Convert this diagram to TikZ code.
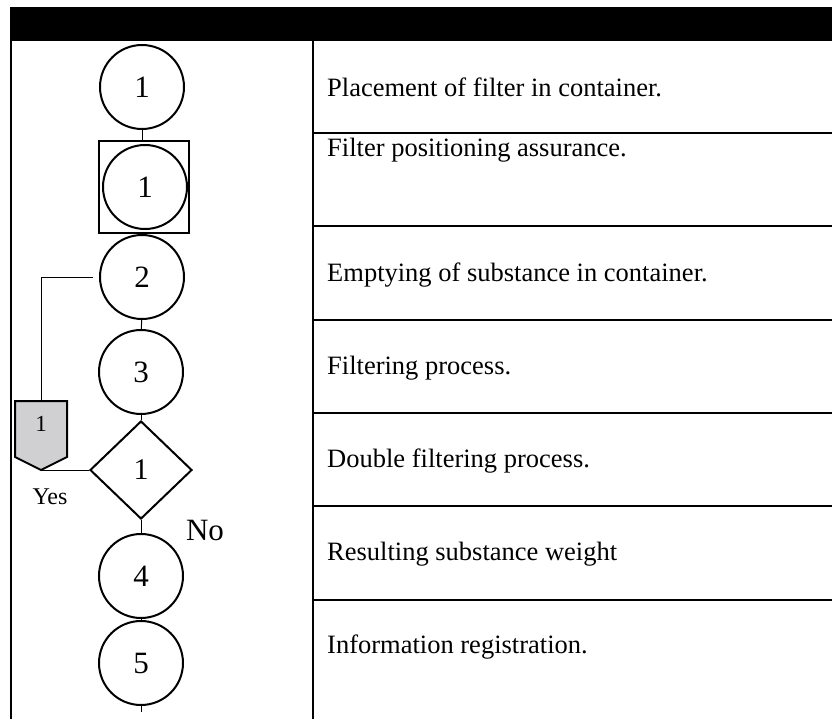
\documentclass[tikz,border=0pt]{standalone}
\usepackage{fontspec}
\setmainfont{Liberation Serif}
\usetikzlibrary{shapes.geometric}
\begin{document}
\begin{tikzpicture}[x=1pt,y=-1pt,
  proc/.style={circle,draw,line width=2pt,minimum size=84pt,inner sep=0pt,font=\fontsize{31}{34}\selectfont},
  conn/.style={line width=1pt},
  rowline/.style={line width=2pt},
  rowtext/.style={anchor=west,inner sep=0pt,font=\fontsize{26.5}{30}\selectfont},
  lbl/.style={inner sep=0pt},
]
\useasboundingbox (0,0) rectangle (832,719);
% table frame
\fill (10,7) rectangle (832,41);
\draw[rowline] (11,40) -- (11,719);
\draw[rowline] (313,40) -- (313,719);
\foreach \yy in {133,226,320,413,506,600}
  \draw[rowline] (313,\yy) -- (832,\yy);
% row texts
\node[rowtext] (t1) at (327,87) {Placement of filter in container.};
\node[rowtext] (t2) at (327,150) {Filter positioning assurance.};
\node[rowtext] (t3) at (327,275) {Emptying of substance in container.};
\node[rowtext] (t4) at (327,368) {Filtering process.};
\node[rowtext] (t5) at (327,461) {Double filtering process.};
\node[rowtext] (t6) at (327,554) {Resulting substance weight};
\node[rowtext] (t7) at (327,647) {Information registration.};
% symbols
\node[proc] (c1) at (142,87) {1};
\node[draw,line width=2pt,minimum width=90pt,minimum height=92pt,inner sep=0pt] (sq) at (144,187) {};
\node[proc] (ci) at (145,187) {1};
\node[proc] (c2) at (142,277) {2};
\node[proc] (c3) at (141,372) {3};
\node[diamond,draw,line width=2pt,minimum width=102pt,minimum height=98pt,inner sep=0pt,font=\fontsize{30}{32}\selectfont] (d1) at (141,470) {1};
\node[proc] (c4) at (141,576) {4};
\node[proc] (c5) at (141,663) {5};
\coordinate (cend) at (141,712);
% off-page connector
\coordinate (pt) at (41,401);
\coordinate (ptip) at (41,470);
\draw[line width=2pt,fill={rgb,255:red,208;green,207;blue,209}] (15,401) -- (67,401) -- (67,457) -- (ptip) -- (15,457) -- cycle;
\node[lbl,font=\fontsize{23}{25}\selectfont] (pn) at (41,424) {1};
% labels
\node[lbl,font=\fontsize{24}{26}\selectfont] (yes) at (50,497) {Yes};
\node[lbl,font=\fontsize{31}{33}\selectfont] (no) at (205,530) {No};
% connectors
\draw[conn] (c1.south) -- (c1.south |- sq.north);
\draw[conn] (c2.north) -- (c2.north |- sq.south);
\draw[conn] (c2) -- (c3);
\draw[conn] (c3) -- (d1);
\draw[conn] (d1) -- (c4);
\draw[conn] (c4) -- (c5);
\draw[conn] (c5) -- (cend);
\draw[conn] ([xshift=-6pt]c2.west) -| (pt);
\draw[conn] (ptip) -- (d1.west);
\end{tikzpicture}
\end{document}
